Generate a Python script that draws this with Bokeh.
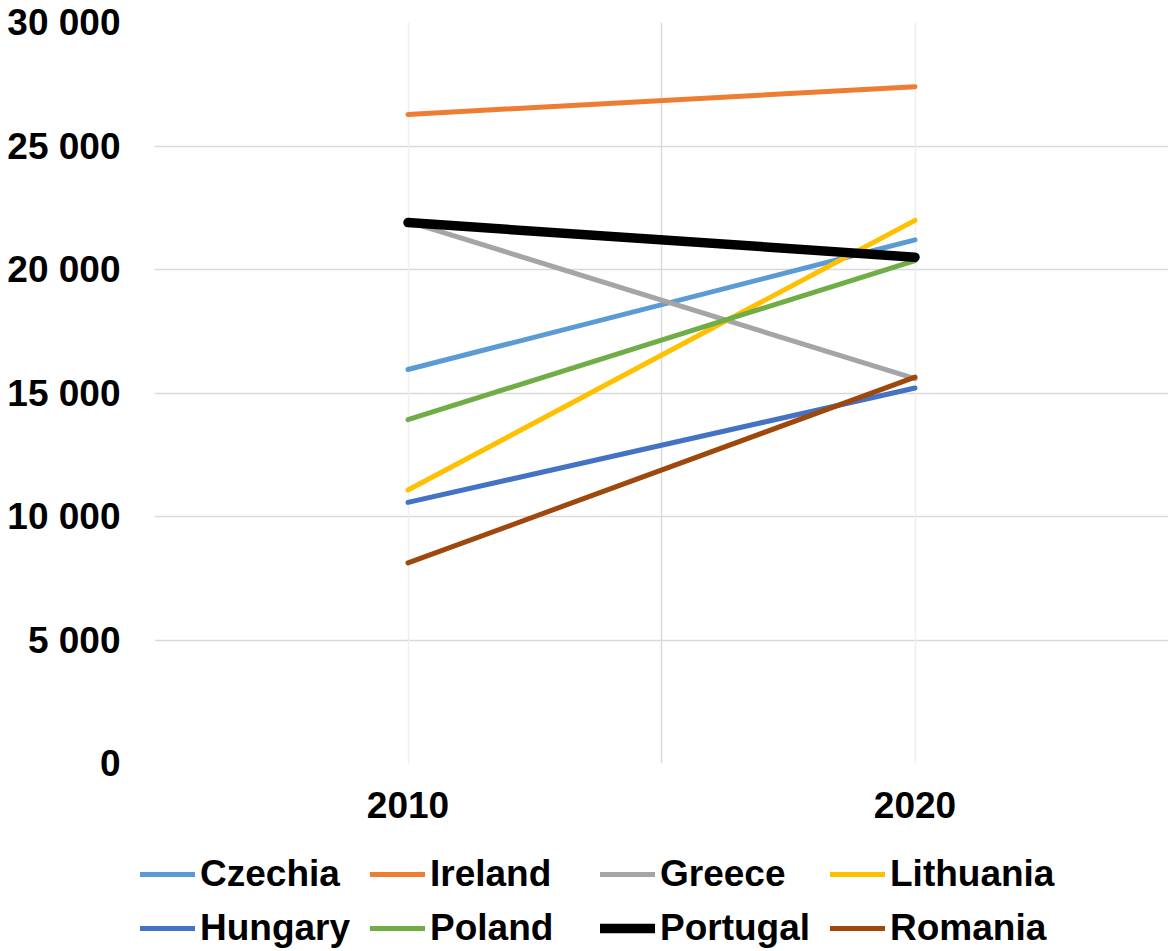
from bokeh.plotting import figure
from bokeh.layouts import column, row
from bokeh.models import Range1d, FixedTicker, Grid, Legend, LegendItem
from bokeh.embed import file_html
from bokeh.resources import INLINE

years = ["2010", "2020"]
countries = ["Czechia", "Ireland", "Greece", "Lithuania",
             "Hungary", "Poland", "Portugal", "Romania"]
czechia = [15950, 21200]
ireland = [26280, 27400]
greece = [21940, 15580]
lithuania = [11070, 21990]
hungary = [10570, 15200]
poland = [13920, 20360]
portugal = [21900, 20500]
romania = [8120, 15640]
series = [czechia, ireland, greece, lithuania, hungary, poland, portugal, romania]
colors = ["#5B9BD5", "#ED7D31", "#A5A5A5", "#FFC000",
          "#4472C4", "#70AD47", "#000000", "#9E480E"]
widths = [5, 5, 5, 5, 5, 5, 9.5, 5]
y_ticks = [0, 5000, 10000, 15000, 20000, 25000, 30000]
y_tick_labels = ["0", "5 000", "10 000", "15 000", "20 000", "25 000", "30 000"]

xs = [i + 0.5 for i in range(len(years))]
FONT = "Liberation Sans"
FSIZE = "37px"

p = figure(frame_width=1014, frame_height=741, output_backend="svg",
           toolbar_location=None,
           x_range=Range1d(0, len(years)), y_range=Range1d(0, 30000),
           min_border_left=154, min_border_right=0, min_border_top=22,
           min_border_bottom=80)
p.outline_line_color = None
p.background_fill_color = "white"
p.border_fill_color = "white"

# axes
p.xaxis.ticker = FixedTicker(ticks=xs)
p.xaxis.major_label_overrides = {x: y for x, y in zip(xs, years)}
p.yaxis.ticker = FixedTicker(ticks=y_ticks)
p.yaxis.major_label_overrides = {t: l for t, l in zip(y_ticks, y_tick_labels)}
for ax in (p.xaxis[0], p.yaxis[0]):
    ax.axis_line_color = None
    ax.major_tick_line_color = None
    ax.minor_tick_line_color = None
    ax.major_tick_in = 0
    ax.major_tick_out = 0
    ax.major_label_text_font = FONT
    ax.major_label_text_font_style = "bold"
    ax.major_label_text_font_size = FSIZE
    ax.major_label_text_color = "#000000"
p.yaxis.major_label_standoff = 34
p.xaxis.major_label_standoff = 28

# grids
p.xgrid.ticker = FixedTicker(ticks=[0, 1, 2])
p.xgrid.grid_line_color = "#D9D9D9"
p.xgrid.grid_line_width = 1.5
p.ygrid.ticker = FixedTicker(ticks=y_ticks)
p.ygrid.grid_line_color = "#D9D9D9"
p.ygrid.grid_line_width = 1.5
p.add_layout(Grid(dimension=0, ticker=FixedTicker(ticks=xs),
                  grid_line_color="#EFEFEF", grid_line_width=1.5))

for vals, c, w in zip(series, colors, widths):
    p.line(xs, vals, line_color=c, line_width=w, line_cap="round",
           line_join="round")

# legend strip (separate figure so it is not clipped)
lg = figure(frame_width=1168, frame_height=108, output_backend="svg",
            toolbar_location=None,
            x_axis_type=None, y_axis_type=None,
            x_range=Range1d(10, 11), y_range=Range1d(0, 30000),
            min_border=0, min_border_left=0, min_border_right=0,
            min_border_top=0, min_border_bottom=0)
lg.outline_line_color = None
lg.xgrid.visible = False
lg.ygrid.visible = False
lg.border_fill_color = "white"
lg.background_fill_color = "white"

items = []
for name, vals, c, w in zip(countries, series, colors, widths):
    r = lg.line(xs, vals, line_color=c, line_width=w, line_cap="round")
    items.append(LegendItem(label=name, renderers=[r]))

legend = Legend(items=items, orientation="horizontal", ncols=4,
                location=(140, 2),
                label_text_font=FONT, label_text_font_style="bold",
                label_text_font_size=FSIZE, label_text_color="#000000",
                glyph_width=55, glyph_height=40, label_height=40,
                label_width=158, label_standoff=5, spacing=12,
                padding=0, margin=0, border_line_color=None,
                background_fill_alpha=0)
lg.add_layout(legend, "center")

layout = column(p, row(lg, spacing=0), spacing=0)
open("out.html", "w").write(file_html(layout, INLINE))
